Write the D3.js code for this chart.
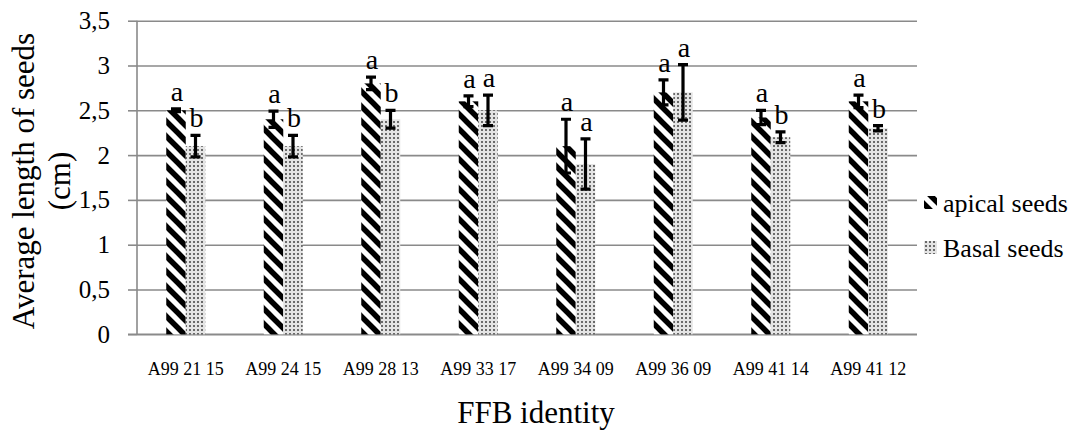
<!DOCTYPE html>
<html>
<head>
<meta charset="utf-8">
<script src="https://cdn.jsdelivr.net/npm/d3@7/dist/d3.min.js"></script>
<style>
  html, body { margin: 0; padding: 0; background: #fff; }
  svg { display: block; }
</style>
</head>
<body>
<svg id="chart" width="1074" height="432"></svg>
<script>
const categories = ["A99 21 15", "A99 24 15", "A99 28 13", "A99 33 17", "A99 34 09", "A99 36 09", "A99 41 14", "A99 41 12"];
const seriesNames = ["apical seeds", "Basal seeds"];
const apical = [2.5, 2.4, 2.8, 2.6, 2.1, 2.7, 2.42, 2.6];
const apicalErr = [0.015, 0.09, 0.07, 0.06, 0.3, 0.14, 0.08, 0.07];
const basal = [2.1, 2.1, 2.4, 2.5, 1.9, 2.7, 2.2, 2.3];
const basalErr = [0.12, 0.12, 0.1, 0.17, 0.28, 0.31, 0.06, 0.03];
const apicalLetters = ["a", "a", "a", "a", "a", "a", "a", "a"];
const basalLetters = ["b", "b", "b", "a", "a", "a", "b", "b"];
const yTicks = [0, 0.5, 1, 1.5, 2, 2.5, 3, 3.5];

(function () {
const FONT = "Liberation Serif";
const svg = d3.select("#chart");
const pLeft = 137, pRight = 917, pTop = 20.7, pBottom = 334.3;

// patterns
const defs = svg.append("defs");
const pStripe = defs.append("pattern")
  .attr("id", "stripes").attr("patternUnits", "userSpaceOnUse")
  .attr("width", 15).attr("height", 15);
pStripe.append("rect").attr("width", 15).attr("height", 15).attr("fill", "#fff");
pStripe.append("path")
  .attr("d", "M-4,-4 L19,19 M-4,11 L4,19 M11,-4 L19,4")
  .attr("stroke", "#000").attr("stroke-width", 5.5);

const pDots = defs.append("pattern")
  .attr("id", "dots").attr("patternUnits", "userSpaceOnUse")
  .attr("width", 4).attr("height", 4);
pDots.append("rect").attr("width", 4).attr("height", 4).attr("fill", "#e4e4e4");
pDots.append("rect").attr("x", 1).attr("y", 1).attr("width", 2).attr("height", 2).attr("fill", "#6a6a6a");

const y = d3.scaleLinear().domain([0, 3.5]).range([pBottom, pTop]);
const x = d3.scaleBand().domain(categories).range([pLeft, pRight]).paddingInner(0.6).paddingOuter(0.3);
const xs = d3.scaleBand().domain(seriesNames).range([0, x.bandwidth()]);

// gridlines
const yGrid = d3.axisLeft(y).tickValues(yTicks).tickSize(-(pRight - pLeft)).tickFormat(() => "");
const gGrid = svg.append("g").attr("transform", `translate(${pLeft},0)`).call(yGrid);
gGrid.select(".domain").remove();
gGrid.selectAll(".tick text").remove();
gGrid.selectAll(".tick line").attr("stroke", "#8a8a8a").attr("stroke-width", 1.6);

// outer ticks and labels
const yAxis = d3.axisLeft(y).tickValues(yTicks).tickSize(9).tickPadding(18)
  .tickFormat(d => String(d).replace(".", ","));
const gY = svg.append("g").attr("transform", `translate(${pLeft},0)`).call(yAxis);
gY.attr("font-family", FONT).attr("font-size", 25);
gY.select(".domain").attr("stroke", "#8a8a8a").attr("stroke-width", 1.6).attr("d", `M0,${pTop}V${pBottom}`);
gY.selectAll(".tick line").attr("stroke", "#8a8a8a").attr("stroke-width", 1.6);
gY.selectAll(".tick text").attr("font-family", FONT).attr("font-size", 25).attr("fill", "#000");

// x axis
const xAxis = d3.axisBottom(x).tickSize(0).tickPadding(28);
const gX = svg.append("g").attr("transform", `translate(0,${pBottom})`).call(xAxis);
gX.attr("font-family", FONT).attr("font-size", 18);
gX.select(".domain").attr("stroke", "#8a8a8a").attr("stroke-width", 1.6).attr("d", `M${pLeft - 9},0H${pRight}`);
gX.selectAll(".tick text").attr("font-family", FONT).attr("font-size", 18).attr("fill", "#000");

// bars
const series = [
  { name: seriesNames[0], vals: apical, errs: apicalErr, letters: apicalLetters, fill: "url(#stripes)" },
  { name: seriesNames[1], vals: basal, errs: basalErr, letters: basalLetters, fill: "url(#dots)" }
];
series.forEach(s => {
  const g = svg.append("g");
  const data = categories.map((c, i) => ({ c, v: s.vals[i], e: s.errs[i], l: s.letters[i] }));
  g.selectAll("rect").data(data).join("rect")
    .attr("x", d => x(d.c) + xs(s.name))
    .attr("width", xs.bandwidth())
    .attr("y", d => y(d.v))
    .attr("height", d => y(0) - y(d.v))
    .attr("fill", s.fill);
});
series.forEach(s => {
  const g = svg.append("g");
  const data = categories.map((c, i) => ({ c, v: s.vals[i], e: s.errs[i], l: s.letters[i] }));
  const cx = d => x(d.c) + xs(s.name) + xs.bandwidth() / 2;
  g.selectAll("path").data(data).join("path")
    .attr("d", d => {
      const y1 = y(d.v + d.e), y2 = y(d.v - d.e), c = cx(d);
      return `M${c},${y1}V${y2}M${c - 5},${y1}H${c + 5}M${c - 5},${y2}H${c + 5}`;
    })
    .attr("stroke", "#000").attr("stroke-width", 3.2).attr("fill", "none");
  g.selectAll("text").data(data).join("text")
    .attr("x", d => cx(d) + 1)
    .attr("y", d => y(d.v + d.e) - 8)
    .attr("text-anchor", "middle")
    .attr("font-family", FONT).attr("font-size", 28)
    .text(d => d.l);
});

// axis titles
svg.append("text")
  .attr("transform", `translate(23,181) rotate(-90)`)
  .attr("text-anchor", "middle").attr("dominant-baseline", "central")
  .attr("font-family", FONT).attr("font-size", 31).text("Average length of seeds");
svg.append("text")
  .attr("transform", `translate(59,181) rotate(-90)`)
  .attr("text-anchor", "middle").attr("dominant-baseline", "central")
  .attr("font-family", FONT).attr("font-size", 31).text("(cm)");
svg.append("text")
  .attr("x", 536).attr("y", 423).attr("text-anchor", "middle")
  .attr("font-family", FONT).attr("font-size", 31).text("FFB identity");

// legend
const leg = svg.append("g");
const legItems = [
  { name: seriesNames[0], fill: "url(#stripes)", y: 203 },
  { name: seriesNames[1], fill: "url(#dots)", y: 248 }
];
legItems.forEach(it => {
  leg.append("rect").attr("x", 924).attr("y", it.y - 7).attr("width", 13).attr("height", 13).attr("fill", it.fill);
  leg.append("text").attr("x", 943).attr("y", it.y).attr("dominant-baseline", "central")
    .attr("font-family", FONT).attr("font-size", 26).text(it.name);
});
})();
</script>
</body>
</html>
